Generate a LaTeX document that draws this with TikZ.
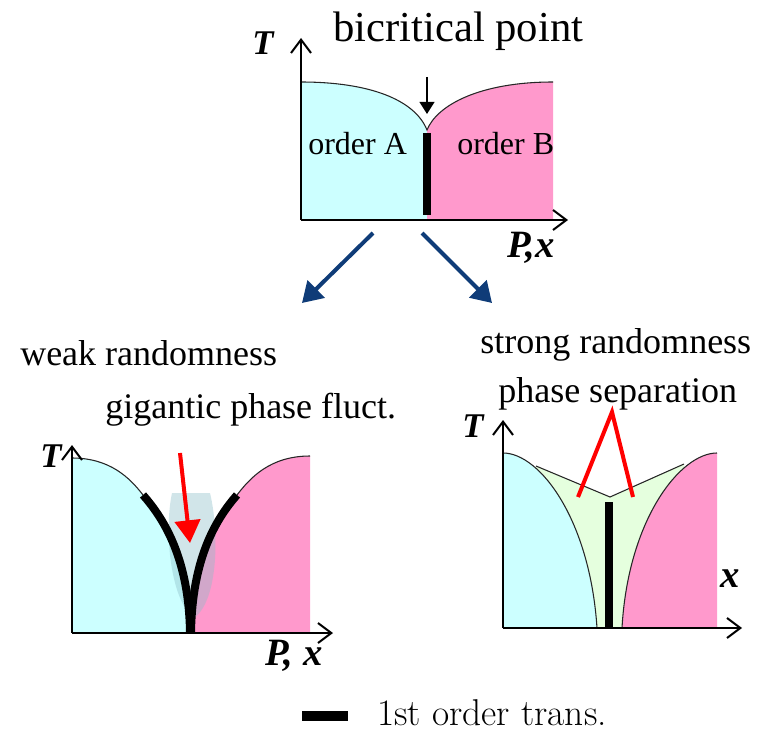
\documentclass[tikz,border=0pt]{standalone}
\usepackage{fontspec}
\newfontfamily\tnr{Liberation Serif}
\usetikzlibrary{arrows.meta}
\definecolor{cyanA}{RGB}{204,255,255}
\definecolor{pinkB}{RGB}{255,153,204}
\definecolor{greenC}{RGB}{229,255,222}
\definecolor{navyArrow}{RGB}{15,60,120}
\definecolor{blobC}{RGB}{140,190,200}
\begin{document}
\begin{tikzpicture}[x=0.75pt,y=-0.75pt,
  axis/.style={line width=1.5pt,-{Straight Barb[length=10pt,width=15pt,line width=1.5pt]}},
  bdry/.style={line width=0.8pt,black!85},
  firstorder/.style={line width=6pt},
  bluearrow/.style={navyArrow,line width=3pt,-{Triangle[length=15pt,width=18pt]}},
  redline/.style={red,line width=3pt},
  txt/.style={inner sep=0pt,anchor=base west,font=\tnr\fontsize{27}{30}\selectfont},
  axlbl/.style={inner sep=0pt,anchor=base west,font=\tnr\bfseries\itshape\fontsize{26}{30}\selectfont},
  axlblb/.style={inner sep=0pt,anchor=base west,font=\tnr\bfseries\itshape\fontsize{29}{32}\selectfont},
]
\useasboundingbox (0,0) rectangle (767,731);

% ---------------- top diagram ----------------
\fill[cyanA] (301,220) -- (301,82) .. controls (370,82) and (415,100) .. (427,130) -- (427,220) -- cycle;
\fill[pinkB] (427,220) -- (427,130) .. controls (437,105) and (480,82) .. (553,82) -- (553,220) -- cycle;
\draw[bdry] (301,82) .. controls (370,82) and (415,100) .. (427,130) .. controls (437,105) and (480,82) .. (553,82);
\coordinate (b1a) at (427,133);
\coordinate (b1b) at (427,215);
\draw[firstorder] (b1a) -- (b1b);
\coordinate (o1) at (301,220);
\coordinate (y1) at (301,38);
\coordinate (x1) at (568,220);
\draw[axis] (o1) -- (y1);
\draw[axis] (o1) -- (x1);
\node[txt,font=\tnr\fontsize{32}{36}\selectfont] (title) at (333,42) {bicritical point};
\coordinate (bpA) at (427,77);
\coordinate (bp) at (427,114);
\draw[line width=1.5pt,-{Triangle[length=9pt,width=11pt]}] (bpA) -- (bp);
\node[txt,font=\tnr\fontsize{24}{28}\selectfont] (ordA) at (308,155) {order A};
\node[txt,font=\tnr\fontsize{24}{28}\selectfont] (ordB) at (457,155) {order B};
\node[axlbl] (T1) at (252,55) {T};
\node[axlblb] (P1) at (507,257) {P,x};

% blue arrows
\coordinate (ba1) at (373,233);
\coordinate (ba2) at (302,303);
\coordinate (bb1) at (422,233);
\coordinate (bb2) at (492,303);
\draw[bluearrow] (ba1) -- (ba2);
\draw[bluearrow] (bb1) -- (bb2);

% ---------------- bottom-left diagram ----------------
\fill[cyanA] (72,633) -- (72,458) .. controls (110,458) and (130,478) .. (143,495) .. controls (165,520) and (189,560) .. (190,633) -- cycle;
\fill[pinkB] (310,633) -- (310,456) .. controls (270,456) and (250,478) .. (237,495) .. controls (215,520) and (192,560) .. (191,633) -- cycle;
\fill[blobC,opacity=0.4] (172,493) -- (210,493) .. controls (219,530) and (219,600) .. (194,618) .. controls (170,600) and (164,530) .. (172,493) -- cycle;
\draw[bdry] (72,458) .. controls (110,458) and (130,478) .. (143,495);
\draw[bdry] (237,495) .. controls (250,478) and (270,456) .. (310,456);
\draw[firstorder] (143,495) .. controls (165,520) and (189,560) .. (190,633);
\draw[firstorder] (237,495) .. controls (215,520) and (192,560) .. (191,633);
\coordinate (ra1) at (180,453);
\coordinate (ra2) at (190,543);
\draw[red,line width=3pt,-{Triangle[length=17pt,width=19pt]}] (ra1) -- (ra2);
\coordinate (o2) at (72,633);
\coordinate (y2) at (72,445);
\coordinate (x2) at (333,633);
\draw[axis] (o2) -- (y2);
\draw[axis] (o2) -- (x2);
\node[txt] (weak) at (20,365) {weak randomness};
\node[txt] (gig) at (105,418) {gigantic phase fluct.};
\node[axlbl] (T2) at (40,467) {T};
\node[axlblb] (P2) at (265,665) {P, x};

% ---------------- bottom-right diagram ----------------
\fill[greenC] (536,466) -- (610,497) -- (684,464) -- (684,628) -- (536,628) -- cycle;
\fill[cyanA] (503,628) -- (503,453) .. controls (540,453) and (590,520) .. (597,628) -- cycle;
\fill[pinkB] (717,628) -- (717,453) .. controls (680,453) and (628,520) .. (622,628) -- cycle;
\draw[bdry] (503,453) .. controls (540,453) and (590,520) .. (597,628);
\draw[bdry] (717,453) .. controls (680,453) and (628,520) .. (622,628);
\draw[bdry] (536,466) -- (610,497) -- (684,464);
\coordinate (b3a) at (609,502);
\coordinate (b3b) at (609,628);
\draw[line width=5.5pt] (b3a) -- (b3b);
\coordinate (rp) at (612,412);
\coordinate (rl) at (578,497);
\coordinate (rr) at (633,497);
\draw[redline] (rl) -- (rp) -- (rr);
\coordinate (o3) at (503,628);
\coordinate (y3) at (503,420);
\coordinate (x3) at (742,628);
\draw[axis] (o3) -- (y3);
\draw[axis] (o3) -- (x3);
\node[txt] (strong) at (480,353) {strong randomness};
\node[txt] (sep) at (498,402) {phase separation};
\node[axlbl] (T3) at (462,437) {T};
\node[axlblb] (X3) at (720,587) {x};

% ---------------- legend ----------------
\coordinate (lg1) at (302,716);
\coordinate (lg2) at (348,716);
\draw[line width=7pt] (lg1) -- (lg2);
\node[inner sep=0pt,anchor=base west,font=\fontsize{28}{32}\selectfont] (leg) at (377,725) {1st order trans.};
\end{tikzpicture}
\end{document}
